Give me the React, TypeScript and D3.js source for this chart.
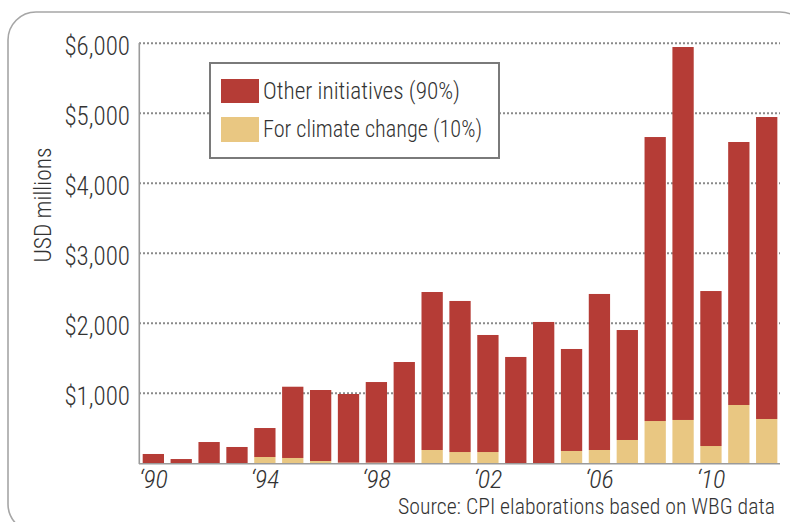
import React from "react";
import * as d3 from "d3";

const years = [1990,1991,1992,1993,1994,1995,1996,1997,1998,1999,2000,2001,2002,2003,2004,2005,2006,2007,2008,2009,2010,2011,2012];
const climate = [0,0,0,0,90,76,33,10,10,10,190,161,161,0,0,176,190,333,604,619,247,833,633];
const other = [133,61,304,233,414,1018,1014,980,1151,1437,2257,2158,1672,1519,2019,1457,2229,1571,4057,5328,2214,3757,4314];
const yTicks = [1000,2000,3000,4000,5000,6000];
const xTickYears = [1990,1994,1998,2002,2006,2010];
const seriesNames = ["Other initiatives (90%)", "For climate change (10%)"];
const colors = { climate: "#E9C782", other: "#B53C36" };

const FONT = "'Liberation Sans Narrow', 'Arial Narrow', 'Roboto Condensed', sans-serif";
const TXT = "#333";

export default function App() {
  const W = 790, H = 522;
  const x = d3.scaleBand<number>().domain(years).range([139.35, 780.7]).paddingInner(0.236).paddingOuter(0.12);
  const y = d3.scaleLinear().domain([0, 6000]).range([463.3, 43.3]);
  const rows = years.map((yr, i) => ({ year: yr, climate: climate[i], other: other[i] }));
  const stacked = d3.stack<any>().keys(["climate", "other"])(rows);
  const fmt = (v: number) => "$" + d3.format(",")(v);

  return (
    <svg width={W} height={H} style={{ position: "absolute", left: 0, top: 0, background: "#fff" }}>
      <rect x={8} y={12} width={800} height={520} rx={28} ry={28} fill="none" stroke="#a6a6a6" strokeWidth={1.6} />
      {yTicks.map(t => (
        <line key={t} x1={139} x2={780} y1={y(t)} y2={y(t)} stroke="#8a8a8a" strokeWidth={2} strokeDasharray="2,2" />
      ))}
      {stacked.map(s => (
        <g key={s.key} fill={(colors as any)[s.key]}>
          {s.map((d: any, i: number) => (
            <rect key={i} x={x(years[i])} width={x.bandwidth()} y={y(d[1])} height={Math.max(0, y(d[0]) - y(d[1]))} />
          ))}
        </g>
      ))}
      <line x1={139.3} x2={139.3} y1={43} y2={464} stroke="#9a9a9a" strokeWidth={1.6} />
      <line x1={139} x2={780} y1={463.8} y2={463.8} stroke="#9a9a9a" strokeWidth={1.6} />
      {yTicks.map(t => (
        <text key={t} x={130} y={y(t) + 12} textAnchor="end" fontFamily={FONT} fontWeight={300} fontSize={25} fill={TXT}>{fmt(t)}</text>
      ))}
      {xTickYears.map(yr => (
        <text key={yr} x={(x(yr) as number) + x.bandwidth() / 2} y={488} textAnchor="middle" fontFamily={FONT} fontWeight={300} fontStyle="italic" fontSize={26} fill={TXT}>
          {"\u2018" + String(yr).slice(2)}
        </text>
      ))}
      <text transform="translate(51,205) rotate(-90)" textAnchor="middle" fontFamily={FONT} fontWeight={300} fontSize={24} fill={TXT} textLength={115} lengthAdjust="spacingAndGlyphs">USD millions</text>
      <rect x={210} y={63} width={289} height={95} fill="#fff" stroke="#7a7a7a" strokeWidth={2} />
      <rect x={221} y={79} width={38} height={24} fill={colors.other} />
      <rect x={221} y={117} width={38} height={25} fill={colors.climate} />
      <text x={263} y={99} fontFamily={FONT} fontWeight={300} fontSize={24} fill={TXT} textLength={197} lengthAdjust="spacingAndGlyphs">{seriesNames[0]}</text>
      <text x={263} y={137} fontFamily={FONT} fontWeight={300} fontSize={24} fill={TXT} textLength={219} lengthAdjust="spacingAndGlyphs">{seriesNames[1]}</text>
      <text x={775} y={514} textAnchor="end" fontFamily={FONT} fontWeight={300} fontSize={22} fill={TXT} textLength={377} lengthAdjust="spacingAndGlyphs">Source: CPI elaborations based on WBG data</text>
    </svg>
  );
}
